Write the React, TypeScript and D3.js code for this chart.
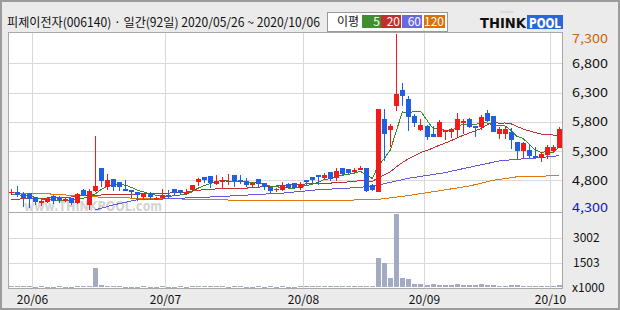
import React from "react";
import * as d3 from "d3";

// ---------- DATA ----------
const opens = [4585,4600,4565,4585,4515,4410,4430,4530,4500,4445,4500,4410,4635,4380,4620,5010,4685,4825,4770,4650,4635,4600,4515,4565,4480,4500,4550,4650,4635,4565,4635,4770,4855,4875,4735,4770,4770,4890,4805,4790,4720,4825,4755,4685,4635,4635,4735,4755,4670,4805,4855,4890,4840,4945,4840,5010,4995,4945,4975,5010,4720,4600,5850,5660,6070,6345,6190,5900,5660,5730,5590,5540,5625,5625,5660,5780,5850,5730,5710,5950,5900,5590,5590,5625,5455,5300,5320,5215,5180,5235,5300,5355];
const highs = [4650,4705,4600,4585,4515,4465,4515,4550,4530,4515,4500,4585,4650,4650,5560,5010,4910,4825,4770,4805,4635,4600,4585,4600,4515,4650,4635,4650,4635,4650,4720,4840,4855,4875,4890,4855,4910,4890,4890,4840,4770,4825,4755,4685,4670,4770,4755,4755,4770,4805,4855,4890,4925,4945,5010,5010,4995,5010,5045,5010,4735,6020,6020,5765,7300,6465,6240,5935,5850,5745,5730,5830,5660,5695,5950,5850,5870,5730,5915,6000,5900,5710,5730,5695,5455,5455,5420,5370,5285,5405,5405,5710];
const lows = [4550,4515,4345,4330,4380,4360,4410,4395,4410,4430,4380,4395,4530,4300,4600,4685,4635,4620,4620,4620,4500,4445,4480,4480,4465,4480,4500,4550,4550,4550,4600,4700,4755,4670,4720,4650,4720,4685,4735,4685,4685,4685,4635,4585,4600,4620,4670,4650,4635,4720,4755,4720,4805,4790,4790,4890,4910,4925,4975,4600,4620,4600,5130,5370,5985,6070,5645,5710,5645,5490,5540,5540,5490,5525,5540,5590,5700,5540,5660,5795,5625,5505,5505,5335,5165,5180,5180,5180,5115,5165,5285,5355];
const closes = [4600,4550,4500,4480,4430,4445,4500,4445,4465,4480,4410,4565,4550,4620,4705,4790,4805,4685,4685,4620,4600,4550,4565,4515,4500,4550,4515,4585,4585,4600,4720,4825,4805,4755,4790,4805,4790,4790,4770,4720,4755,4735,4685,4620,4650,4720,4670,4670,4735,4770,4805,4855,4890,4825,4960,4910,4925,4975,5010,4620,4635,6020,5590,5730,6275,6240,5880,5780,5745,5540,5540,5800,5660,5675,5850,5815,5710,5695,5880,5815,5625,5675,5675,5490,5300,5440,5215,5180,5250,5370,5370,5675];
// volume, thousands of shares
const volumes = [60,50,70,55,45,50,40,45,50,40,45,60,55,90,1160,140,80,60,50,45,40,45,50,40,45,55,40,45,50,45,60,70,55,50,60,50,45,55,50,45,40,50,45,50,40,55,45,40,50,55,60,65,55,50,70,60,50,55,65,90,80,1770,1490,580,4420,580,500,220,220,140,200,140,160,140,200,140,140,140,200,150,120,80,90,140,150,90,80,80,80,90,80,140];

// moving averages before enough history exists inside the window
const ma5Early = [4560,4555,4545,4530];
const ma20Early = [4465,4465,4495,4495,4495,4495,4495,4515,4515,4515,4515,4535,4535,4535,4535,4550,4550,4550,4550];
const ma60Idx = [14,17,21,25,28,31,34,36,38,41,45,47,49,51,55,58,61,66,72,76,81,84,87,91];
const ma60Val = [4295,4380,4470,4480,4495,4505,4520,4530,4540,4560,4580,4600,4620,4640,4660,4680,4720,4835,4930,5020,5130,5160,5180,5220];
const ma120Idx = [0,6,9,13,15,21,29,35,45,50,55,60,61,66,71,76,80,84,91];
const ma120Val = [4585,4570,4550,4530,4510,4495,4480,4465,4455,4450,4460,4470,4475,4540,4620,4700,4800,4860,4880];

const monthTickIdx = [4,26,49,69,90];
const monthTickLabels = ["20/06","20/07","20/08","20/09","20/10"];
const priceTicks = [4300,4800,5300,5800,6300,6800,7300];
const priceTickLabels = ["4,300","4,800","5,300","5,800","6,300","6,800","7,300"];
const volTicks = [1503,3002];
const maPeriods = ["5","20","60","120"];
const titleText = "피제이전자(006140) · 일간(92일) 2020/05/26 ~ 2020/10/06";

// ---------- LAYOUT ----------
const W = 620, H = 310;
const PL = 8, PR = 562, PT = 32, PB = 212, VB = 288;
const FONT = "'Noto Sans CJK KR', 'DejaVu Sans', sans-serif";
const UP = "#f21a1a", DOWN = "#1f5fe0";
const MA_COLORS = ["#3a8a2a", "#c43030", "#6458e0", "#e07810"];
const LEG_COLORS = ["#3f8f2f", "#c0302c", "#6868e0", "#d87008"];

function movingAvg(period: number, early: number[]) {
  return closes.map((_, i) => {
    if (i < period - 1) return early[i];
    return d3.mean(closes.slice(i - period + 1, i + 1)) as number;
  });
}

export default function App() {
  const n = closes.length;
  const x = d3.scaleBand<number>().domain(d3.range(n)).range([PL, PR]).padding(0);
  const bw = x.bandwidth();
  const cx = (i: number) => (x(i) as number) + bw / 2;
  const y = d3.scaleLinear().domain([4300, 7300]).range([209.6, 34]);
  const yv = d3.scaleLinear().domain([0, 3002]).range([287.3, 237.8]);

  const ma5 = movingAvg(5, ma5Early);
  const ma20 = movingAvg(20, ma20Early);
  const lineIdx = d3.line<number>().x((_, i) => cx(i)).y((v) => y(v));
  const linePairs = d3.line<[number, number]>().x((d) => cx(d[0])).y((d) => y(d[1]));
  const ma60 = ma60Idx.map((k, j) => [k, ma60Val[j]] as [number, number]);
  const ma120 = ma120Idx.map((k, j) => [k, ma120Val[j]] as [number, number]);

  const gridX = monthTickIdx.map((k) => Math.round(x(k) as number) + 0.5);

  return (
    <svg width={W} height={H} style={{ position: "absolute", left: 0, top: 0 }} fontFamily={FONT}>
      <rect x={0} y={0} width={W} height={H} fill="#ebebeb" />
      <rect x={1} y={1} width={W - 2} height={H - 2} fill="none" stroke="#9c9c9c" strokeWidth={2} />

      {/* title */}
      <text x={7} y={27} fontSize={12.5} fill="#111" textLength={313} lengthAdjust="spacingAndGlyphs">{titleText}</text>

      {/* legend */}
      <rect x={327.5} y={12.5} width={120} height={19} fill="#fff" stroke="#999" />
      <text x={337} y={26} fontSize={12} fill="#111">이평</text>
      {maPeriods.map((p, k) => {
        const bx = [362, 381, 402, 424][k];
        const bwid = [19, 20, 20, 21][k];
        return (
          <g key={p}>
            <rect x={bx} y={15} width={bwid} height={13} fill={LEG_COLORS[k]} />
            <text x={bx + bwid - 1} y={26} fontSize={12} fill="#fff" textAnchor="end">{p}</text>
          </g>
        );
      })}

      {/* logo */}
      <text x={500} y={13} fontSize={3} fill="#c4c4c4">thinkpool</text>
      <text x={480} y={28} fontSize={14} fontWeight="bold" fill="#111" fontFamily="'DejaVu Sans', sans-serif" textLength={46} lengthAdjust="spacingAndGlyphs">THINK</text>
      <rect x={527} y={15} width={36} height={14} fill="#2b66d8" />
      <text x={529} y={28} fontSize={14} fontWeight="bold" fill="#fff" fontFamily="'DejaVu Sans', sans-serif" textLength={32} lengthAdjust="spacingAndGlyphs">POOL</text>

      {/* plot panels */}
      <rect x={PL} y={PT} width={PR - PL} height={PB - PT} fill="#fff" />
      <rect x={PL} y={PB} width={PR - PL} height={VB - PB} fill="#fff" />

      {/* grid */}
      {priceTicks.slice(1, 6).map((t) => (
        <line key={t} x1={PL} x2={PR} y1={Math.round(y(t)) + 0.5} y2={Math.round(y(t)) + 0.5} stroke="#d9d9d9" />
      ))}
      {volTicks.map((t) => (
        <line key={t} x1={PL} x2={PR} y1={Math.round(yv(t)) + 0.5} y2={Math.round(yv(t)) + 0.5} stroke="#d9d9d9" />
      ))}
      {gridX.map((gx, k) => (
        <line key={k} x1={gx} x2={gx} y1={PT} y2={VB} stroke="#d9d9d9" />
      ))}

      {/* watermark */}
      <text x={24} y={211} fontSize={14} fontWeight="bold" fill="#d4d4d4" textLength={138} lengthAdjust="spacingAndGlyphs" fontFamily="'DejaVu Sans', sans-serif">www.THINKPOOL.com</text>

      {/* moving averages */}
      <g fill="none" strokeWidth={1} shapeRendering="crispEdges">
        <path d={linePairs(ma120) || ""} stroke={MA_COLORS[3]} />
        <path d={linePairs(ma60) || ""} stroke={MA_COLORS[2]} />
        <path d={lineIdx(ma20) || ""} stroke={MA_COLORS[1]} />
        <path d={lineIdx(ma5) || ""} stroke={MA_COLORS[0]} />
      </g>

      {/* candles */}
      <g shapeRendering="crispEdges">
        {closes.map((c, i) => {
          const o = opens[i];
          const col = c >= o ? UP : DOWN;
          const px = Math.round(cx(i));
          const top = Math.round(y(Math.max(o, c)));
          const bot = Math.round(y(Math.min(o, c)));
          return (
            <g key={i}>
              <rect x={px} y={Math.round(y(highs[i]))} width={1} height={Math.max(1, Math.round(y(lows[i])) - Math.round(y(highs[i])))} fill={col} />
              <rect x={px - 2} y={top} width={5} height={Math.max(1, bot - top)} fill={col} />
            </g>
          );
        })}
      </g>

      {/* volume */}
      <g shapeRendering="crispEdges">
        {volumes.map((v, i) => {
          const px = Math.round(cx(i));
          const top = Math.round(yv(v));
          return <rect key={i} x={px - 2} y={top} width={5} height={Math.max(1, 287 - top)} fill="#a3abc3" />;
        })}
      </g>

      {/* frames */}
      <rect x={PL + 0.5} y={PT + 0.5} width={PR - PL} height={VB - PT} fill="none" stroke="#a8a8a8" />
      <line x1={PL} x2={PR} y1={PB + 0.5} y2={PB + 0.5} stroke="#a8a8a8" />

      {/* right price labels */}
      {priceTicks.map((t, k) => {
        let ty = y(t) + 4.5;
        if (t === 7300) ty = 43;
        if (t === 4300) ty = 212;
        const col = t === 7300 ? "#d26400" : t === 4300 ? "#1010e0" : "#111";
        return (
          <text key={t} x={572} y={ty} fontSize={12} fill={col} textLength={36} lengthAdjust="spacingAndGlyphs">{priceTickLabels[k]}</text>
        );
      })}
      {volTicks.map((t) => (
        <text key={t} x={573} y={yv(t) + 4.5} fontSize={12} fill="#111">{String(t)}</text>
      ))}
      <text x={572} y={292} fontSize={12} fill="#111">x1000</text>

      {/* bottom labels */}
      {monthTickLabels.map((lab, k) => (
        <text key={lab} x={gridX[k]} y={304} fontSize={12} fill="#111" textAnchor="middle">{lab}</text>
      ))}
    </svg>
  );
}
